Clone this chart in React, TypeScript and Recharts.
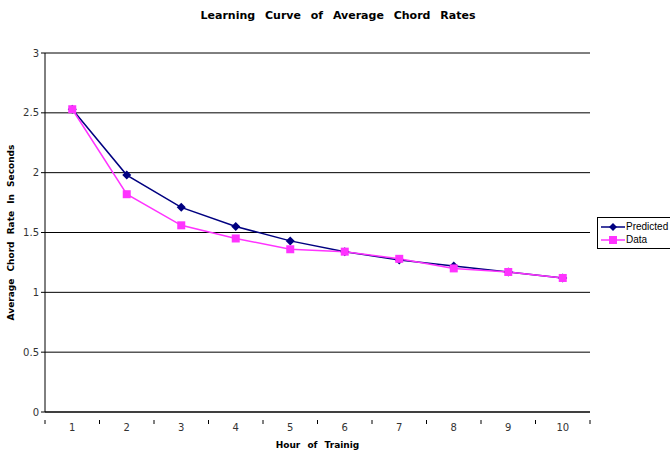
import { LineChart, Line, XAxis, YAxis, CartesianGrid } from 'recharts';

const hours = [1, 2, 3, 4, 5, 6, 7, 8, 9, 10];
const predicted = [2.53, 1.98, 1.71, 1.55, 1.43, 1.34, 1.27, 1.22, 1.17, 1.12];
const observed = [2.53, 1.82, 1.56, 1.45, 1.36, 1.34, 1.28, 1.2, 1.17, 1.12];
const yTicks = [0, 0.5, 1, 1.5, 2, 2.5, 3];

const data = hours.map((h, i) => ({ hour: h, predicted: predicted[i], data: observed[i] }));

// tick marks sit between categories, labels on the categories (Excel style)
const xTicks = [0.5, ...hours.flatMap((h) => [h, h + 0.5])];

const font = 'DejaVu Sans, sans-serif';

function XTick(props: any) {
  const { x, y, payload } = props;
  if (Number.isInteger(payload.value)) {
    return (
      <text x={x} y={y + 11} textAnchor="middle" fontSize={10} fontFamily={font} fill="#333">
        {payload.value}
      </text>
    );
  }
  return <line x1={x} x2={x} y1={y} y2={y + 4} stroke="#000" />;
}

function Diamond(props: any) {
  const { cx, cy } = props;
  if (cx == null || cy == null) return null;
  return <path d={`M${cx},${cy - 4.5}L${cx + 4.5},${cy}L${cx},${cy + 4.5}L${cx - 4.5},${cy}Z`} fill="#000080" />;
}

function Square(props: any) {
  const { cx, cy } = props;
  if (cx == null || cy == null) return null;
  return <rect x={cx - 4} y={cy - 4} width={8} height={8} fill="#ff33ff" />;
}

function LegendBox() {
  const row = (label: string, color: string, marker: 'd' | 's') => (
    <div style={{ display: 'flex', alignItems: 'center', height: 13 }}>
      <svg width={26} height={10}>
        <line x1={1} x2={25} y1={5} y2={5} stroke={color} strokeWidth={1.5} />
        {marker === 'd' ? (
          <path d="M13,1L17,5L13,9L9,5Z" fill={color} />
        ) : (
          <rect x={9} y={1} width={8} height={8} fill={color} />
        )}
      </svg>
      <span style={{ fontSize: 10, fontFamily: 'Liberation Sans, sans-serif', color: '#000' }}>{label}</span>
    </div>
  );
  return (
    <div
      style={{
        position: 'absolute',
        left: 597,
        top: 217,
        width: 72,
        border: '1px solid #000',
        borderRight: 'none',
        background: '#fff',
        padding: '2px 0 2px 2px',
      }}
    >
      {row('Predicted', '#000080', 'd')}
      {row('Data', '#ff33ff', 's')}
    </div>
  );
}

export default function App() {
  return (
    <div style={{ position: 'absolute', left: 0, top: 0, width: 670, height: 451, background: '#fff', overflow: 'hidden' }}>
      <div
        style={{
          position: 'absolute',
          top: 9,
          left: 0,
          width: 676,
          textAlign: 'center',
          fontFamily: font,
          fontWeight: 'bold',
          fontSize: 11,
          wordSpacing: 6,
        }}
      >
        Learning Curve of Average Chord Rates
      </div>
      <LineChart width={670} height={451} data={data} margin={{ top: 53, right: 80, bottom: 0, left: 0 }}>
        <CartesianGrid vertical={false} stroke="#000" strokeWidth={1} />
        <XAxis
          dataKey="hour"
          type="number"
          domain={[0.5, 10.5]}
          ticks={xTicks}
          interval={0}
          tick={<XTick />}
          tickLine={false}
          axisLine={{ stroke: '#000' }}
          height={39}
          label={{
            value: 'Hour of Trainig',
            position: 'insideBottom',
            offset: 3,
            style: { fontFamily: font, fontWeight: 'bold', fontSize: 9, fill: '#000', wordSpacing: 4 },
          }}
        />
        <YAxis
          domain={[0, 3]}
          ticks={yTicks}
          interval={0}
          width={45}
          tickSize={4}
          tickLine={{ stroke: '#000' }}
          axisLine={{ stroke: '#000' }}
          tick={{ fontSize: 10, fontFamily: font, fill: '#333' }}
          label={{
            value: 'Average Chord Rate In Seconds',
            angle: -90,
            position: 'insideLeft',
            offset: 11,
            style: { textAnchor: 'middle', fontFamily: font, fontWeight: 'bold', fontSize: 9, fill: '#000', wordSpacing: 4 },
          }}
        />
        <Line
          type="linear"
          dataKey="predicted"
          name="Predicted"
          stroke="#000080"
          strokeWidth={1.5}
          dot={<Diamond />}
          activeDot={false}
          isAnimationActive={false}
        />
        <Line
          type="linear"
          dataKey="data"
          name="Data"
          stroke="#ff33ff"
          strokeWidth={1.5}
          dot={<Square />}
          activeDot={false}
          isAnimationActive={false}
        />
      </LineChart>
      <LegendBox />
    </div>
  );
}
